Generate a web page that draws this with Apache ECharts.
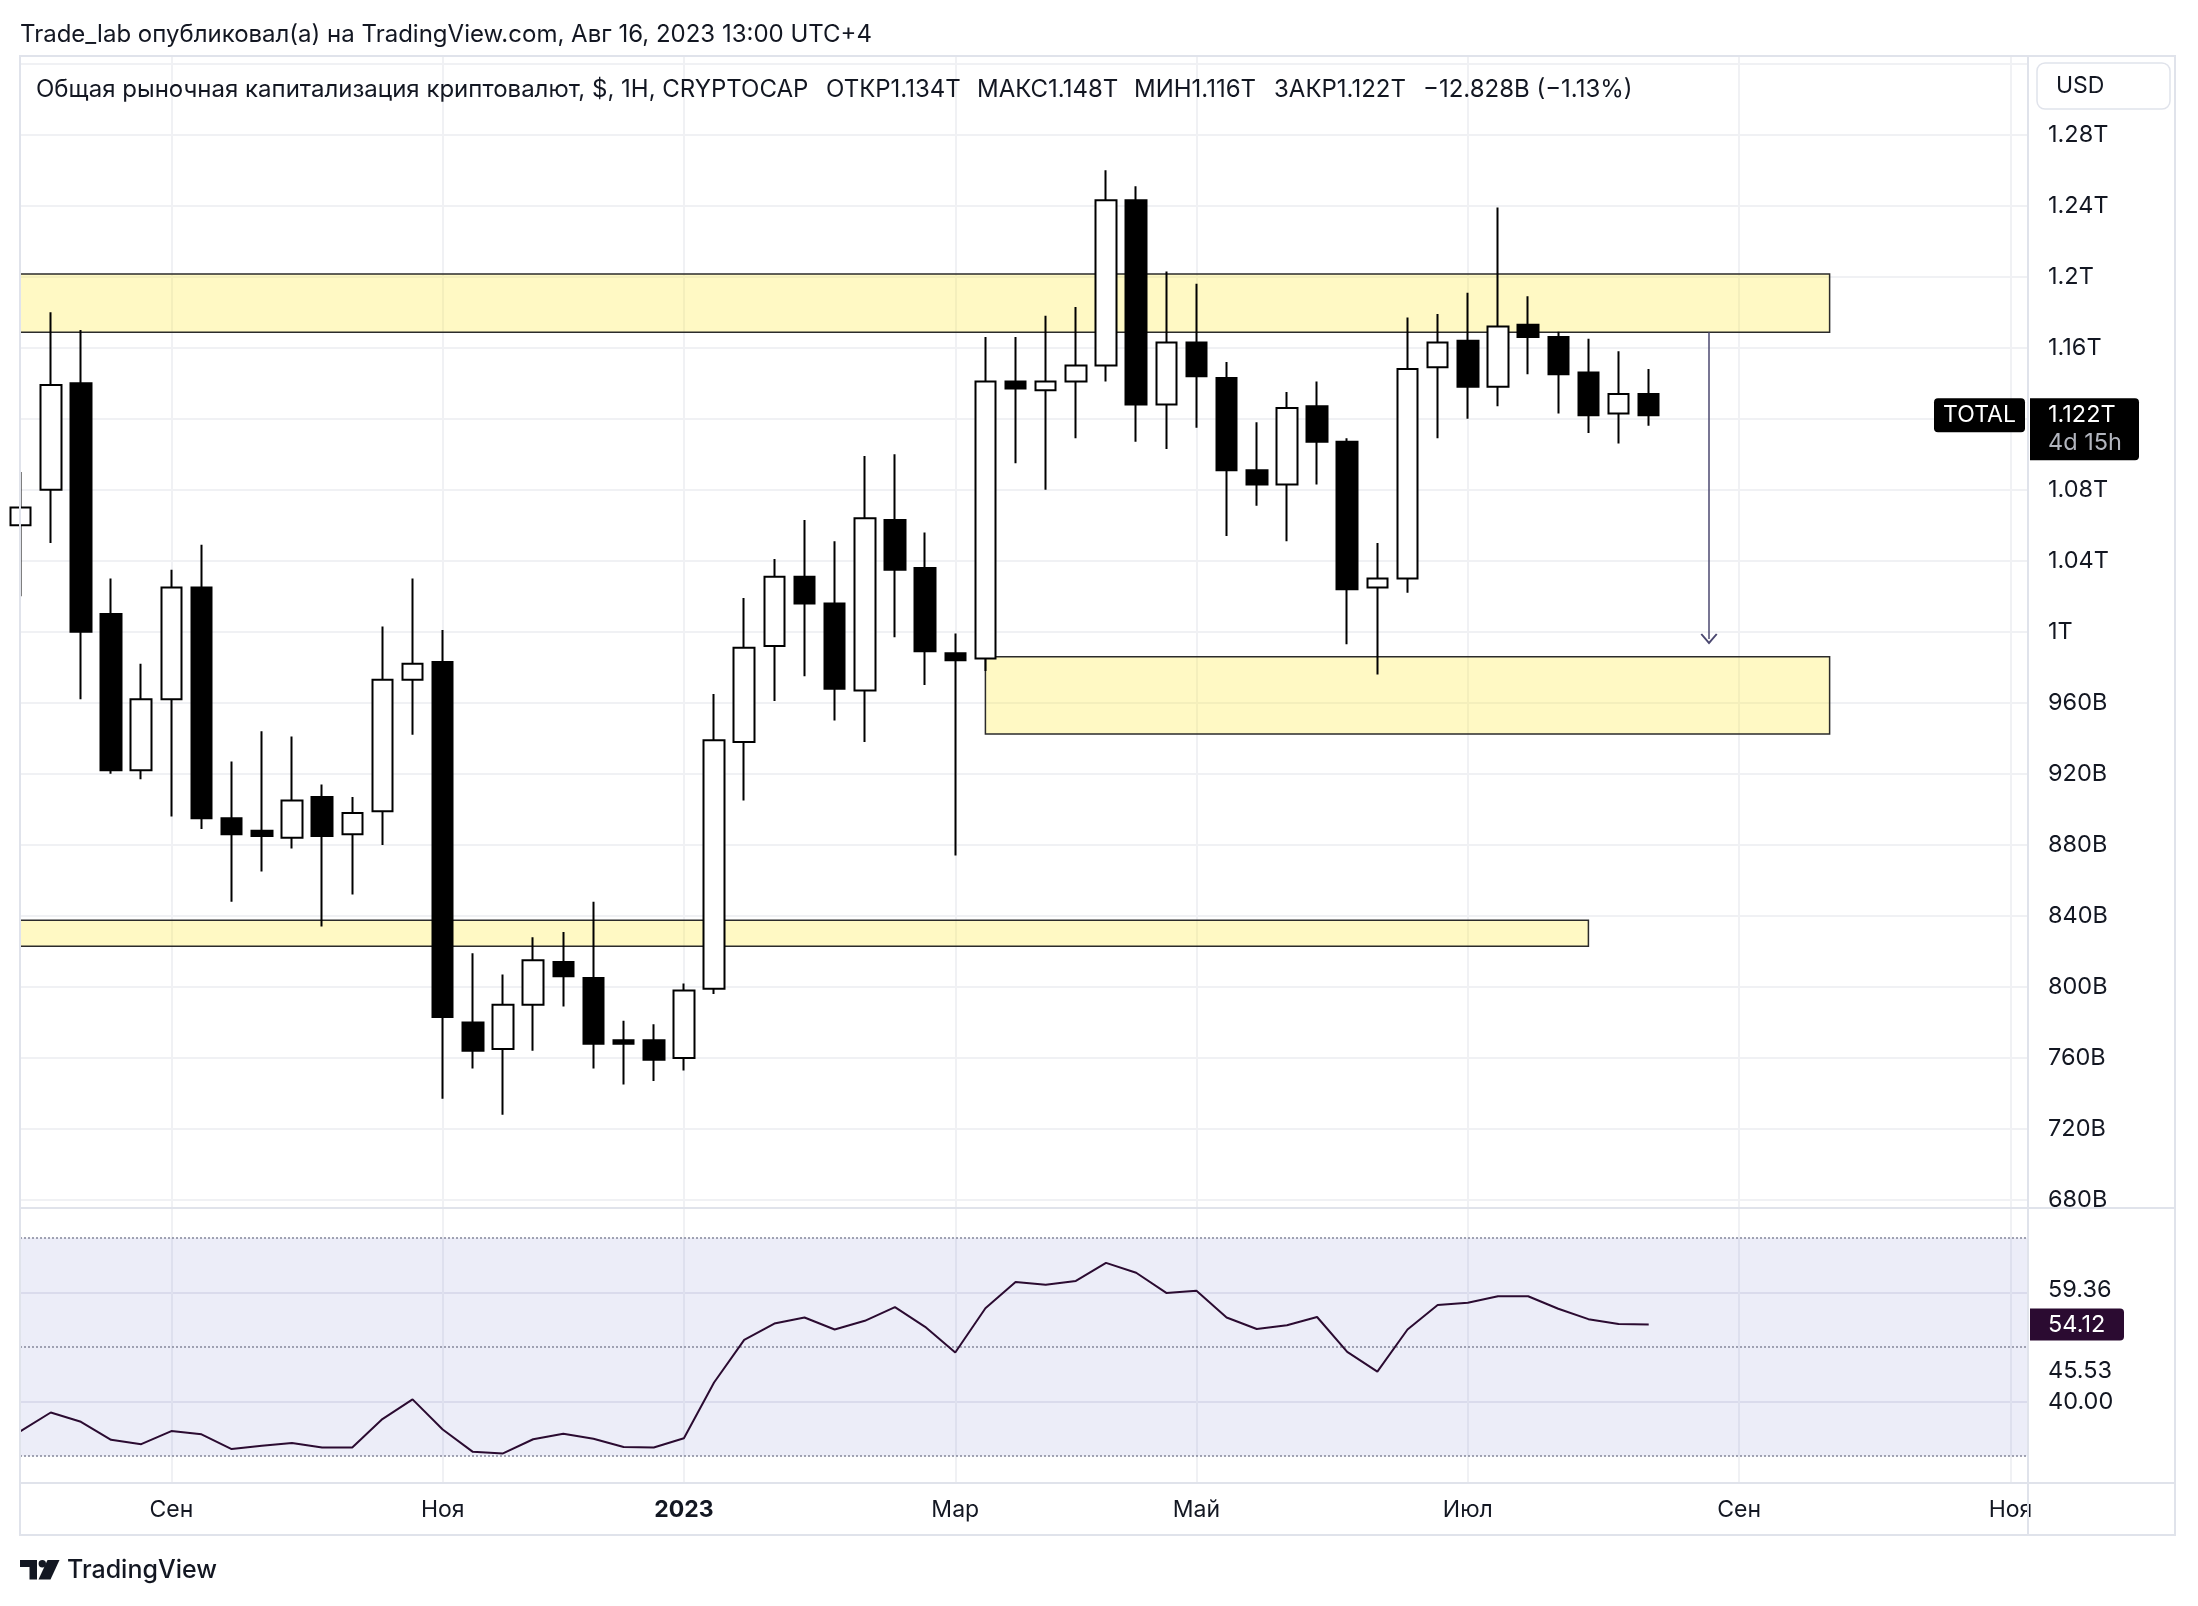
<!DOCTYPE html>
<html>
<head>
<meta charset="utf-8">
<title>TOTAL</title>
<script src="https://cdn.jsdelivr.net/npm/echarts@6/dist/echarts.min.js"></script>
<style>
html,body{margin:0;padding:0;background:#ffffff;}
#chart{width:2198px;height:1606px;}
</style>
</head>
<body>
<div id="chart"></div>
<script>
// ---------- DATA ----------
const weeks = [
  '2022-08-01','2022-08-08','2022-08-15','2022-08-22','2022-08-29','2022-09-05','2022-09-12','2022-09-19',
  '2022-09-26','2022-10-03','2022-10-10','2022-10-17','2022-10-24','2022-10-31','2022-11-07','2022-11-14',
  '2022-11-21','2022-11-28','2022-12-05','2022-12-12','2022-12-19','2022-12-26','2023-01-02','2023-01-09',
  '2023-01-16','2023-01-23','2023-01-30','2023-02-06','2023-02-13','2023-02-20','2023-02-27','2023-03-06',
  '2023-03-13','2023-03-20','2023-03-27','2023-04-03','2023-04-10','2023-04-17','2023-04-24','2023-05-01',
  '2023-05-08','2023-05-15','2023-05-22','2023-05-29','2023-06-05','2023-06-12','2023-06-19','2023-06-26',
  '2023-07-03','2023-07-10','2023-07-17','2023-07-24','2023-07-31','2023-08-07','2023-08-14'
];
// values in trillions of USD
const opens  = [1.060,1.080,1.140,1.010,0.922,0.962,1.025,0.895,0.888,0.884,0.907,0.886,0.899,0.973,0.983,0.780,
                0.765,0.790,0.814,0.805,0.770,0.770,0.760,0.799,0.938,0.992,1.031,1.016,0.967,1.063,1.036,0.988,
                0.985,1.141,1.136,1.141,1.150,1.243,1.128,1.163,1.143,1.091,1.083,1.127,1.107,1.025,1.030,1.149,
                1.164,1.138,1.173,1.166,1.146,1.123,1.134];
const highs  = [1.090,1.180,1.170,1.030,0.982,1.035,1.049,0.927,0.944,0.941,0.914,0.907,1.003,1.030,1.001,0.819,
                0.807,0.828,0.831,0.848,0.781,0.779,0.802,0.965,1.019,1.041,1.063,1.051,1.099,1.100,1.056,0.999,
                1.166,1.166,1.178,1.183,1.260,1.251,1.203,1.196,1.152,1.118,1.135,1.141,1.109,1.050,1.177,1.179,
                1.191,1.239,1.189,1.169,1.165,1.158,1.148];
const lows   = [1.020,1.050,0.962,0.920,0.917,0.896,0.889,0.848,0.865,0.878,0.834,0.852,0.880,0.942,0.737,0.754,
                0.728,0.764,0.789,0.754,0.745,0.747,0.753,0.796,0.905,0.961,0.975,0.950,0.938,0.997,0.970,0.874,
                0.978,1.095,1.080,1.109,1.141,1.107,1.103,1.115,1.054,1.071,1.051,1.083,0.993,0.976,1.022,1.109,
                1.120,1.127,1.145,1.123,1.112,1.106,1.116];
const closes = [1.070,1.139,1.000,0.922,0.962,1.025,0.895,0.886,0.885,0.905,0.885,0.898,0.973,0.982,0.783,0.764,
                0.790,0.815,0.806,0.768,0.768,0.759,0.798,0.939,0.991,1.031,1.016,0.968,1.064,1.035,0.989,0.984,
                1.141,1.137,1.141,1.150,1.243,1.128,1.163,1.144,1.091,1.083,1.126,1.107,1.024,1.030,1.148,1.163,
                1.138,1.172,1.166,1.145,1.122,1.134,1.122];
const rsi    = [34.6,38.0,36.3,33.0,32.2,34.6,34.0,31.3,31.9,32.4,31.6,31.6,36.8,40.4,34.9,30.8,
                30.5,33.1,34.1,33.2,31.7,31.6,33.3,43.5,51.3,54.3,55.4,53.2,54.8,57.3,53.7,49.0,
                57.1,61.9,61.4,62.1,65.4,63.6,59.9,60.3,55.4,53.3,54.0,55.5,49.1,45.5,53.2,57.7,
                58.1,59.3,59.3,57.0,55.1,54.2,54.12];

const priceTicks  = [0.68,0.72,0.76,0.80,0.84,0.88,0.92,0.96,1.00,1.04,1.08,1.12,1.16,1.20,1.24,1.28,1.32];
const priceLabels = [0.68,0.72,0.76,0.80,0.84,0.88,0.92,0.96,1.00,1.04,1.08,1.12,1.16,1.20,1.24,1.28];
const monthTickDates  = ['2022-09-05','2022-11-07','2023-01-02','2023-03-06','2023-05-01','2023-07-03','2023-09-04','2023-11-06'];
const monthTickLabels = ['Сен','Ноя','2023','Мар','Май','Июл','Сен','Ноя'];

const rsiLevels = [70, 50, 30];
const rsiGridLevels = [60, 40];
const rsiAxisLabels = [40, 45.53];
const rsiMaValue = 59.36;

// zones (null start = continues past the left edge)
const zoneFrom = [null, '2023-03-13', null];
const zoneTo   = ['2023-09-25', '2023-09-25', '2023-07-31'];
const zoneHigh = [1.2015, 0.986, 0.8375];
const zoneLow  = [1.1687, 0.9424, 0.8229];

const arrowWeek = '2023-08-28';
const arrowFrom = 1.1687;
const arrowTo   = 0.996;

const headerParts = ['Общая рыночная капитализация криптовалют, $, 1Н, CRYPTOCAP', 'ОТКР1.134T', 'МАКС1.148T', 'МИН1.116T', 'ЗАКР1.122T', '−12.828B (−1.13%)'];

// ---------- CHART ----------
const chart = echarts.init(document.getElementById('chart'), null, {renderer: 'canvas', width: 2198, height: 1606});
const FONT = 'Inter, "Noto Sans", sans-serif';
const TXT = '#131722';
const GRID = '#f0f1f4';
const xMin = -0.02, xMax = 66.58;
const yMin = 0.6755, yMax = 1.3243;
const t0 = Date.parse(weeks[0]);
const toIdx = d => Math.round((Date.parse(d) - t0) / 604800000);
const monthIdx = monthTickDates.map(toIdx);

const candleData = weeks.map((w, i) => [toIdx(w), opens[i], closes[i], lows[i], highs[i]]);
const rsiData = weeks.map((w, i) => [toIdx(w), rsi[i]]);
const zoneData = zoneTo.map((t, k) => [
  {coord: [zoneFrom[k] === null ? xMin : toIdx(zoneFrom[k]), zoneHigh[k]]},
  {coord: [toIdx(t), zoneLow[k]]}
]);

const priceFmt = v => v >= 1 ? (+v.toFixed(2)) + 'T' : Math.round(v * 1000) + 'B';
const CHEVRON = 'path://M0,12 L10,0 L20,12 L18.2,13.4 L10,3.6 L1.8,13.4 Z';

const option = {
  animation: false,
  backgroundColor: '#ffffff',
  grid: [
    {left: 20, right: 170, top: 56, height: 1152, outerBoundsMode: 'none'},
    {left: 20, right: 170, top: 1208, height: 275, outerBoundsMode: 'none'}
  ],
  xAxis: [
    {
      gridIndex: 0, type: 'value', min: xMin, max: xMax,
      axisLine: {show: false},
      axisTick: {show: false, customValues: monthIdx},
      axisLabel: {show: false},
      splitLine: {show: true, lineStyle: {color: GRID, width: 2}}
    },
    {
      gridIndex: 1, type: 'value', min: xMin, max: xMax,
      axisLine: {show: false},
      axisTick: {show: false, customValues: monthIdx},
      axisLabel: {
        show: true, customValues: monthIdx, margin: 16,
        color: TXT, fontFamily: FONT, fontSize: 23,
        formatter: v => {
          const k = monthIdx.indexOf(Math.round(v));
          const t = k >= 0 ? monthTickLabels[k] : '';
          return /^\d+$/.test(t) ? '{b|' + t + '}' : t;
        },
        rich: {b: {fontWeight: 'bold', fontFamily: FONT, fontSize: 23, color: TXT}}
      },
      splitLine: {show: true, lineStyle: {color: GRID, width: 2}}
    }
  ],
  yAxis: [
    {
      gridIndex: 0, type: 'value', position: 'right', min: yMin, max: yMax,
      axisLine: {show: false},
      axisTick: {show: false, customValues: priceTicks},
      axisLabel: {
        customValues: priceLabels, formatter: priceFmt, margin: 20,
        color: TXT, fontFamily: FONT, fontSize: 23.5, align: 'left'
      },
      splitLine: {show: true, lineStyle: {color: GRID, width: 2}}
    },
    {
      gridIndex: 1, type: 'value', position: 'right', min: 25.09, max: 75.46,
      axisLine: {show: false},
      axisTick: {show: false, customValues: rsiGridLevels},
      axisLabel: {
        customValues: rsiAxisLabels, formatter: v => v.toFixed(2), margin: 20,
        color: TXT, fontFamily: FONT, fontSize: 23.5, align: 'left'
      },
      splitLine: {show: true, lineStyle: {color: '#ebebf2', width: 2}}
    }
  ],
  series: [
    {
      type: 'candlestick', xAxisIndex: 0, yAxisIndex: 0,
      data: candleData, barWidth: 21, z: 3,
      itemStyle: {color: '#ffffff', color0: '#000000', borderColor: '#000000', borderColor0: '#000000', borderWidth: 2},
      markArea: {
        silent: true, z: 1,
        label: {show: false},
        itemStyle: {color: 'rgba(255,235,59,0.3)', borderColor: '#2b2b2b', borderWidth: 1.5},
        data: zoneData
      },
      markLine: {
        silent: true, z: 6,
        symbol: ['none', CHEVRON], symbolSize: [17, 11],
        label: {show: false},
        lineStyle: {color: '#4b4870', width: 1.5, type: 'solid'},
        data: [[{coord: [toIdx(arrowWeek), arrowFrom]}, {coord: [toIdx(arrowWeek), arrowTo]}]]
      }
    },
    {
      type: 'line', xAxisIndex: 1, yAxisIndex: 1,
      data: rsiData, showSymbol: false, symbol: 'none', z: 5,
      lineStyle: {color: '#2b0b31', width: 2},
      markArea: {
        silent: true, z: 1,
        label: {show: false},
        itemStyle: {color: 'rgba(70,80,190,0.1)'},
        data: [[{coord: [xMin, rsiLevels[0]]}, {coord: [xMax, rsiLevels[2]]}]]
      },
      markLine: {
        silent: true, symbol: 'none',
        label: {show: false},
        lineStyle: {color: '#85889a', type: [2, 2], width: 1.5},
        data: rsiLevels.map(v => ({yAxis: v}))
      }
    }
  ]
};
chart.setOption(option);

// ---------- overlay graphics (labels, frame) ----------
const lastClose = closes[closes.length - 1];
const yLast = chart.convertToPixel({yAxisIndex: 0}, lastClose);
const yRsi = chart.convertToPixel({yAxisIndex: 1}, rsi[rsi.length - 1]);
const yMa = chart.convertToPixel({yAxisIndex: 1}, rsiMaValue) - 6;
const FRAME = '#e0e3eb';
const headerX = [36, 826, 977, 1134, 1274, 1423];

const g = [];
const txt = (x, y, text, opt) => ({
  type: 'text', x, y, z: 100,
  style: Object.assign({text, font: '24px ' + FONT, fill: TXT, align: 'left', verticalAlign: 'middle'}, opt || {})
});
// title
g.push(txt(20, 35, 'Trade_lab опубликовал(а) на TradingView.com, Авг 16, 2023 13:00 UTC+4'));
// header legend
headerParts.forEach((p, k) => g.push(txt(headerX[k], 90, p)));
// frame
const ln = (x1, y1, x2, y2) => ({type: 'line', z: 90, shape: {x1, y1, x2, y2}, style: {stroke: FRAME, lineWidth: 2}});
g.push({type: 'rect', z: 90, shape: {x: 20, y: 56, width: 2155, height: 1479}, style: {fill: 'none', stroke: FRAME, lineWidth: 2}});
g.push(ln(2028, 56, 2028, 1535));
g.push(ln(20, 1208, 2175, 1208));
g.push(ln(20, 1483, 2175, 1483));
// USD button
g.push({type: 'rect', z: 95, shape: {x: 2037, y: 63, width: 133, height: 46, r: 8}, style: {fill: '#ffffff', stroke: FRAME, lineWidth: 1.5}});
g.push(txt(2056, 86, 'USD', {font: '23px ' + FONT}));
// TOTAL + last price labels
g.push({type: 'rect', z: 96, shape: {x: 1934, y: yLast - 17, width: 91, height: 34, r: 4}, style: {fill: '#000000'}});
g.push(txt(1979.5, yLast, 'TOTAL', {fill: '#ffffff', align: 'center', font: '23px ' + FONT}));
g.push({type: 'rect', z: 96, shape: {x: 2030, y: yLast - 17, width: 109, height: 62, r: [0, 4, 4, 0]}, style: {fill: '#000000'}});
g.push(txt(2048, yLast, lastClose.toFixed(3) + 'T', {fill: '#ffffff', font: '23.5px ' + FONT}));
g.push(txt(2048, yLast + 28, '4d 15h', {fill: '#b2b5be', font: '23.5px ' + FONT}));
// RSI labels
g.push({type: 'rect', z: 96, shape: {x: 2030, y: yRsi - 16, width: 94, height: 32, r: [0, 4, 4, 0]}, style: {fill: '#2b0b31'}});
g.push(txt(2048, yRsi, rsi[rsi.length - 1].toFixed(2), {fill: '#ffffff', font: '23.5px ' + FONT}));
g.push(txt(2048, yMa, rsiMaValue.toFixed(2), {font: '23.5px ' + FONT}));
// TradingView logo
g.push({type: 'polygon', z: 100, shape: {points: [[20, 1560], [37, 1560], [37, 1579.5], [29.5, 1579.5], [29.5, 1567], [20, 1567]]}, style: {fill: TXT}});
g.push({type: 'circle', z: 100, shape: {cx: 42.3, cy: 1563.7, r: 3.7}, style: {fill: TXT}});
g.push({type: 'polygon', z: 100, shape: {points: [[47.5, 1560], [59.5, 1560], [50.5, 1579.5], [38.5, 1579.5]]}, style: {fill: TXT}});
g.push(txt(67, 1570, 'TradingView', {font: '500 25px ' + FONT}));

chart.setOption({graphic: g});
</script>
</body>
</html>
